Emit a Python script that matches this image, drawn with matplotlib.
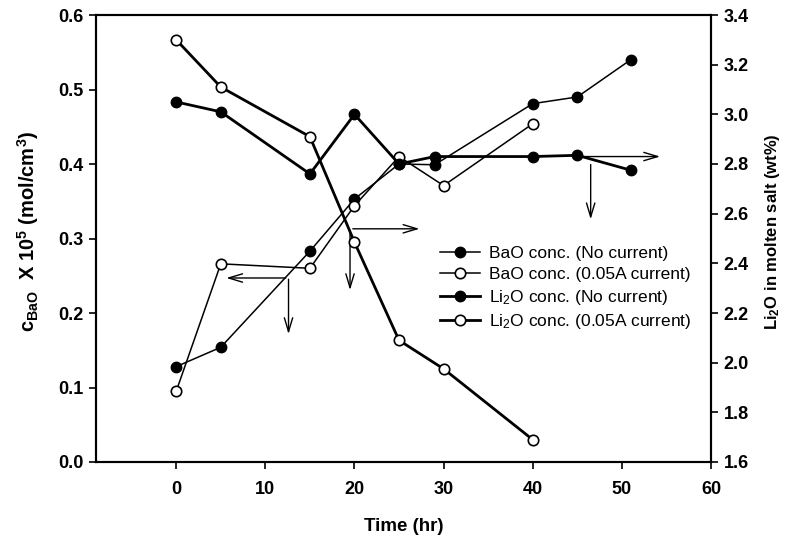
import numpy as np
from matplotlib import pyplot as plt

plt.rcParams['font.family'] = ['Liberation Sans', 'DejaVu Sans']
plt.rcParams['mathtext.default'] = 'regular'

# BaO concentration (left axis)
t_bao_nc = [0, 5, 15, 20, 25, 29, 40, 45, 51]
bao_nc = [0.128, 0.154, 0.283, 0.353, 0.400, 0.399, 0.481, 0.490, 0.540]
t_bao_cur = [0, 5, 15, 20, 25, 30, 40]
bao_cur = [0.095, 0.266, 0.260, 0.344, 0.410, 0.371, 0.454]

# Li2O concentration (right axis, wt%)
t_li_nc = [0, 5, 15, 20, 25, 29, 40, 45, 51]
li_nc = [3.05, 3.01, 2.76, 3.00, 2.80, 2.83, 2.83, 2.835, 2.775]
t_li_cur = [0, 5, 15, 20, 25, 30, 40]
li_cur = [3.30, 3.11, 2.91, 2.485, 2.09, 1.975, 1.69]

fig = plt.figure(figsize=(7.85, 5.37), dpi=100)
ax = fig.add_axes([96/785, 1-462/537, (711-96)/785, (462-15)/537])
ax2 = ax.twinx()

l1, = ax.plot(t_bao_nc, bao_nc, '-o', color='k', lw=1.1, ms=7.5,
              mfc='k', mec='k', label='BaO conc. (No current)')
l2, = ax.plot(t_bao_cur, bao_cur, '-o', color='k', lw=1.1, ms=7.5,
              mfc='white', mec='k', mew=1.2, label='BaO conc. (0.05A current)')
l3, = ax2.plot(t_li_nc, li_nc, '-o', color='k', lw=2.0, ms=7.5,
               mfc='k', mec='k', label='Li$_2$O conc. (No current)')
l4, = ax2.plot(t_li_cur, li_cur, '-o', color='k', lw=2.0, ms=7.5,
               mfc='white', mec='k', mew=1.2, label='Li$_2$O conc. (0.05A current)')

ax.set_xlim(-9, 60)
ax.set_ylim(0, 0.6)
ax2.set_ylim(1.6, 3.4)
ax.set_xticks([0, 10, 20, 30, 40, 50, 60])
ax.set_yticks(np.arange(0, 0.61, 0.1))
ax2.set_yticks(np.arange(1.6, 3.41, 0.2))
ax.yaxis.set_major_formatter(plt.FormatStrFormatter('%.1f'))
ax2.yaxis.set_major_formatter(plt.FormatStrFormatter('%.1f'))

for a in (ax, ax2):
    a.tick_params(direction='out', length=5, width=1.2, labelsize=13)
    for lab in a.get_xticklabels() + a.get_yticklabels():
        lab.set_fontweight('bold')
    for s in a.spines.values():
        s.set_linewidth(1.5)
ax.tick_params(axis='x', pad=9)
ax.tick_params(axis='y', pad=4)
ax2.tick_params(axis='y', pad=4)

ax.set_xlabel('Time (hr)', fontsize=13.5, fontweight='bold', labelpad=14)
ax.set_ylabel('c$_{BaO}$  X 10$^5$ (mol/cm$^3$)', fontsize=14.5, fontweight='bold')
ax2.set_ylabel('Li$_2$O in molten salt (wt%)', fontsize=12, fontweight='bold')
ax.yaxis.set_label_coords(-0.09, 0.515)
ax2.yaxis.set_label_coords(1.085, 0.515)

# direction arrows
arr = dict(arrowstyle='->,head_length=1.0,head_width=0.3', color='k', lw=1.0)
ax.annotate('', xy=(5.3, 0.247), xytext=(12.6, 0.247), arrowprops=arr)
ax.annotate('', xy=(12.6, 0.168), xytext=(12.6, 0.249), arrowprops=arr)
ax.annotate('', xy=(27.6, 0.313), xytext=(19.5, 0.313), arrowprops=arr)
ax.annotate('', xy=(19.5, 0.227), xytext=(19.5, 0.315), arrowprops=arr)
ax.annotate('', xy=(54.6, 0.410), xytext=(45, 0.410), arrowprops=arr)
ax.annotate('', xy=(46.5, 0.322), xytext=(46.5, 0.403), arrowprops=arr)

fig.legend(handles=[l1, l2, l3, l4], loc='upper left',
           bbox_to_anchor=(440/785, 1-246/537), frameon=False,
           fontsize=12.5, handlelength=2.3, handletextpad=0.55,
           labelspacing=0.33, borderpad=0, borderaxespad=0)

fig.savefig('out.png', dpi=100)
